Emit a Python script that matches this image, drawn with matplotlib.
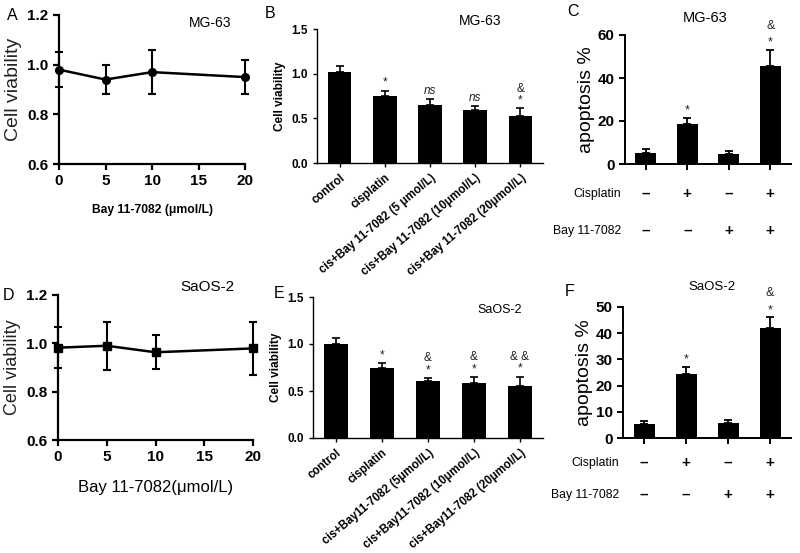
import matplotlib.pyplot as plt
import matplotlib.transforms as mtransforms

plt.rcParams['font.family'] = ['Liberation Sans', 'DejaVu Sans']

# A / D: viability vs Bay 11-7082 dose
dose = [0, 5, 10, 20]
mg63_dose_mean = [0.98, 0.94, 0.97, 0.95]
mg63_dose_err = [0.07, 0.06, 0.09, 0.07]
saos2_dose_mean = [0.982, 0.99, 0.963, 0.979]
saos2_dose_err = [0.085, 0.10, 0.07, 0.11]

# B / E: viability per treatment group
mg63_groups = ['control', 'cisplatin', 'cis+Bay 11-7082 (5 μmol/L)',
               'cis+Bay 11-7082 (10μmol/L)', 'cis+Bay 11-7082 (20μmol/L)']
mg63_viab = [1.015, 0.75, 0.645, 0.59, 0.525]
mg63_viab_err = [0.075, 0.06, 0.07, 0.05, 0.09]
mg63_viab_star = ['', '*', 'ns', 'ns', '*']
mg63_viab_amp = ['', '', '', '', '&']

saos2_groups = ['control', 'cisplatin', 'cis+Bay11-7082 (5μmol/L)',
                'cis+Bay11-7082 (10μmol/L)', 'cis+Bay11-7082 (20μmol/L)']
saos2_viab = [1.0, 0.749, 0.605, 0.59, 0.558]
saos2_viab_err = [0.065, 0.05, 0.035, 0.06, 0.095]
saos2_viab_star = ['', '*', '*', '*', '*']
saos2_viab_amp = ['', '', '&', '&', '& &']

# C / F: apoptosis
mg63_apop = [5.0, 18.6, 4.6, 45.7]
mg63_apop_err = [1.8, 3.0, 1.5, 7.3]
mg63_apop_star = ['', '*', '', '*']
mg63_apop_amp = ['', '', '', '&']
saos2_apop = [5.3, 24.3, 5.8, 42.0]
saos2_apop_err = [1.3, 2.8, 1.1, 4.0]
saos2_apop_star = ['', '*', '', '*']
saos2_apop_amp = ['', '', '', '&']
cisplatin_signs = ['–', '+', '–', '+']
bay_signs = ['–', '–', '+', '+']

W, H = 800, 553
fig = plt.figure(figsize=(W / 100, H / 100), dpi=100)


def px_axes(l, t, r, b):
    return fig.add_axes([l / W, 1 - b / H, (r - l) / W, (b - t) / H])


def px_text(x, y, s, **kw):
    fig.text(x / W, 1 - y / H, s, **kw)


def style(ax, lw):
    for side in ['top', 'right']:
        ax.spines[side].set_visible(False)
    for side in ['left', 'bottom']:
        ax.spines[side].set_linewidth(lw)
    ax.tick_params(width=lw, length=4, direction='out')


def dose_panel(ax, mean, err, marker, xlabel, xl_size, xl_weight, yl_size):
    ax.errorbar(dose, mean, yerr=err, color='black', marker=marker, ms=5.5,
                lw=1.8, elinewidth=1.5, capsize=3, capthick=1.5, clip_on=False)
    ax.set_xlim(0, 20)
    ax.set_ylim(0.6, 1.2)
    ax.set_xticks([0, 5, 10, 15, 20])
    ax.set_yticks([0.6, 0.8, 1.0, 1.2])
    ax.set_yticklabels(['%.1f' % v for v in [0.6, 0.8, 1.0, 1.2]])
    style(ax, 1.6)
    for lab in ax.get_xticklabels() + ax.get_yticklabels():
        lab.set_fontweight('bold')
        lab.set_fontsize(11)
    ax.set_ylabel('Cell viability', fontsize=yl_size, color='#222222')
    ax.set_xlabel(xlabel, fontsize=xl_size, fontweight=xl_weight, labelpad=11)


def marks(ax, x, tops, star, amp, pad, step, size):
    for xi, top, s, a in zip(x, tops, star, amp):
        if s:
            ax.text(xi, top + pad, s, ha='center', va='bottom', fontsize=size,
                    style='italic' if s == 'ns' else 'normal', color='#222222')
        if a:
            ax.text(xi, top + pad + step, a, ha='center', va='bottom',
                    fontsize=size, color='#222222')


def viab_panel(ax, groups, vals, err, star, amp):
    x = list(range(len(groups)))
    ax.bar(x, vals, width=0.52, color='black',
           yerr=[[0] * len(vals), err], capsize=3,
           error_kw=dict(elinewidth=1.2, capthick=1.2, ecolor='black'))
    ax.set_xlim(-0.5, len(groups) - 0.5)
    ax.set_ylim(0, 1.5)
    ax.set_yticks([0.0, 0.5, 1.0, 1.5])
    ax.set_yticklabels(['%.1f' % v for v in [0.0, 0.5, 1.0, 1.5]])
    ax.set_xticks(x)
    ax.set_xticklabels(groups, rotation=40, ha='right', rotation_mode='anchor',
                       fontsize=8.3, fontweight='bold')
    style(ax, 1.0)
    ax.tick_params(length=3)
    for lab in ax.get_yticklabels():
        lab.set_fontweight('bold')
        lab.set_fontsize(8.5)
    ax.set_ylabel('Cell viability', fontsize=8.5, fontweight='bold')
    tops = [v + e for v, e in zip(vals, err)]
    marks(ax, x, tops, star, amp, 0.02, 0.13, 8.5)


def apop_panel(ax, vals, err, ymax, step, star, amp, row1, row2, rowsize):
    x = list(range(len(vals)))
    ax.bar(x, vals, width=0.5, color='black',
           yerr=[[0] * len(vals), err], capsize=3,
           error_kw=dict(elinewidth=1.3, capthick=1.3, ecolor='black'))
    ax.set_xlim(-0.5, len(vals) - 0.5)
    ax.set_ylim(0, ymax)
    ax.set_yticks(list(range(0, ymax + 1, step)))
    ax.set_xticks(x)
    ax.set_xticklabels([])
    style(ax, 1.4)
    for lab in ax.get_yticklabels():
        lab.set_fontweight('bold')
        lab.set_fontsize(11)
    ax.set_ylabel('apoptosis %', fontsize=14, labelpad=2)
    tops = [v + e for v, e in zip(vals, err)]
    marks(ax, x, tops, star, amp, ymax * 0.01, ymax * 0.13, 9)
    tr = mtransforms.blended_transform_factory(ax.transData, fig.transFigure)
    ax.text(-0.6, 1 - row1 / H, 'Cisplatin', transform=tr, ha='right',
            va='center', fontsize=rowsize)
    ax.text(-0.6, 1 - row2 / H, 'Bay 11-7082', transform=tr, ha='right',
            va='center', fontsize=rowsize)
    for xi, a, b in zip(x, cisplatin_signs, bay_signs):
        ax.text(xi, 1 - row1 / H, a, transform=tr, ha='center', va='center',
                fontsize=11, fontweight='bold')
        ax.text(xi, 1 - row2 / H, b, transform=tr, ha='center', va='center',
                fontsize=11, fontweight='bold')


# A
axA = px_axes(59, 15, 245, 164)
dose_panel(axA, mg63_dose_mean, mg63_dose_err, 'o', 'Bay 11-7082 (μmol/L)',
           8.7, 'bold', 14)
px_text(210, 23, 'MG-63', fontsize=10, ha='center', va='center')
px_text(12, 15, 'A', fontsize=11.5, ha='center', va='center')

# D
axD = px_axes(58, 295, 253, 440)
dose_panel(axD, saos2_dose_mean, saos2_dose_err, 's', 'Bay 11-7082(μmol/L)',
           12, 'normal', 13)
px_text(207, 287, 'SaOS-2', fontsize=11, ha='center', va='center')
px_text(8, 295, 'D', fontsize=11.5, ha='center', va='center')

# B
axB = px_axes(317, 29, 543, 163)
viab_panel(axB, mg63_groups, mg63_viab, mg63_viab_err, mg63_viab_star,
           mg63_viab_amp)
px_text(480, 21, 'MG-63', fontsize=10, ha='center', va='center')
px_text(270, 13, 'B', fontsize=11.5, ha='center', va='center')

# E
axE = px_axes(313, 297, 543, 438)
viab_panel(axE, saos2_groups, saos2_viab, saos2_viab_err, saos2_viab_star,
           saos2_viab_amp)
px_text(500, 310, 'SaOS-2', fontsize=9, ha='center', va='center')
px_text(279, 293, 'E', fontsize=11.5, ha='center', va='center')

# C
axC = px_axes(625, 35, 791, 164)
apop_panel(axC, mg63_apop, mg63_apop_err, 60, 20, mg63_apop_star,
           mg63_apop_amp, 194, 231, 8.8)
px_text(705, 18, 'MG-63', fontsize=10.5, ha='center', va='center')
px_text(573, 12, 'C', fontsize=11.5, ha='center', va='center')

# F
axF = px_axes(623, 307, 791, 438)
apop_panel(axF, saos2_apop, saos2_apop_err, 50, 10, saos2_apop_star,
           saos2_apop_amp, 463, 495, 8.8)
px_text(712, 287, 'SaOS-2', fontsize=9.5, ha='center', va='center')
px_text(570, 292, 'F', fontsize=11.5, ha='center', va='center')

fig.savefig('out.png', dpi=100)
